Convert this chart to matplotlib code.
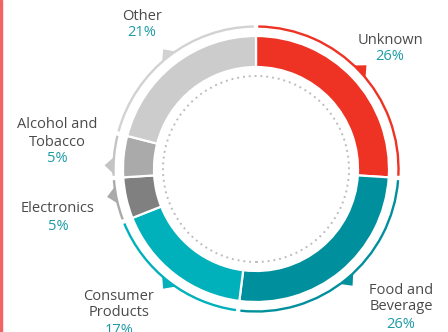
import numpy as np
import matplotlib
matplotlib.use("Agg")
import matplotlib.pyplot as plt
from matplotlib.patches import Arc, Polygon, Rectangle, Circle

# Data
categories = ["Unknown", "Food and Beverage", "Consumer Products", "Electronics", "Alcohol and Tobacco", "Other"]
label_lines = [["Unknown"], ["Food and", "Beverage"], ["Consumer", "Products"], ["Electronics"],
               ["Alcohol and", "Tobacco"], ["Other"]]
values = [26, 26, 17, 5, 5, 21]
colors = ["#EE3224", "#008F9C", "#00B1BC", "#808080", "#AAAAAA", "#CCCCCC"]
arc_colors = ["#EE3224", "#008F9C", "#00B1BC", "#AAAAAA", "#C4C4C4", "#D2D2D2"]

W, H = 448, 332
fig = plt.figure(figsize=(W / 100, H / 100), dpi=100)
ax = fig.add_axes([0, 0, 1, 1])

cx, cy = 256, 332 - 169
R_out, R_in = 133, 102
R_arc = 142.5

ax.pie(values, colors=colors, startangle=90, counterclock=False, radius=R_out,
       center=(cx, cy), wedgeprops=dict(width=R_out - R_in, edgecolor="white", linewidth=1.6))

# dotted inner circle
ax.add_patch(Circle((cx, cy), 93, fill=False, edgecolor="#BDBDBD", linewidth=1.4,
                    linestyle=(0, (1, 2.0))))

# outer arcs and triangle markers
total = float(sum(values))
cum = np.concatenate([[0], np.cumsum(values)]) / total
gap = 0.9
nudge = [0, 0, 0, -2.0, 4.0, 0]
for i, v in enumerate(values):
    a_start = 90 - cum[i] * 360
    a_end = 90 - cum[i + 1] * 360
    ax.add_patch(Arc((cx, cy), 2 * R_arc, 2 * R_arc, theta1=a_end + gap, theta2=a_start - gap,
                     color=arc_colors[i], linewidth=1.7))
    mid = np.deg2rad((a_start + a_end) / 2 + nudge[i])
    half = np.deg2rad(3.4)
    p1 = (cx + R_arc * np.cos(mid - half), cy + R_arc * np.sin(mid - half))
    p2 = (cx + R_arc * np.cos(mid + half), cy + R_arc * np.sin(mid + half))
    r_tip = R_arc + 9
    p3 = (cx + r_tip * np.cos(mid), cy + r_tip * np.sin(mid))
    ax.add_patch(Polygon([p1, p3, p2], closed=True, facecolor=arc_colors[i], edgecolor="none"))

# labels (first-line centre positions in pixels from top-left)
label_pos = [(390, 40), (401, 290), (119, 296), (58, 209), (57, 125), (142, 16)]
name_color = "#4A4A4A"
pct_color = "#1C9BA6"
step = 17
for i, (lx, ly) in enumerate(label_pos):
    lines = label_lines[i]
    for k, line in enumerate(lines):
        ax.text(lx, H - (ly + step * k), line, ha="center", va="center", fontsize=10.5,
                color=name_color, family="Open Sans")
    ax.text(lx, H - (ly + step * len(lines)), f"{values[i]}%", ha="center", va="center",
            fontsize=10.5, color=pct_color, family="Open Sans")

ax.set_xlim(0, W)
ax.set_ylim(0, H)
ax.set_aspect("auto")
ax.axis("off")

fig.add_artist(Rectangle((0, 0), 2 / W, 1, transform=fig.transFigure, color="#F26464"))

fig.savefig("out.png", dpi=100)
